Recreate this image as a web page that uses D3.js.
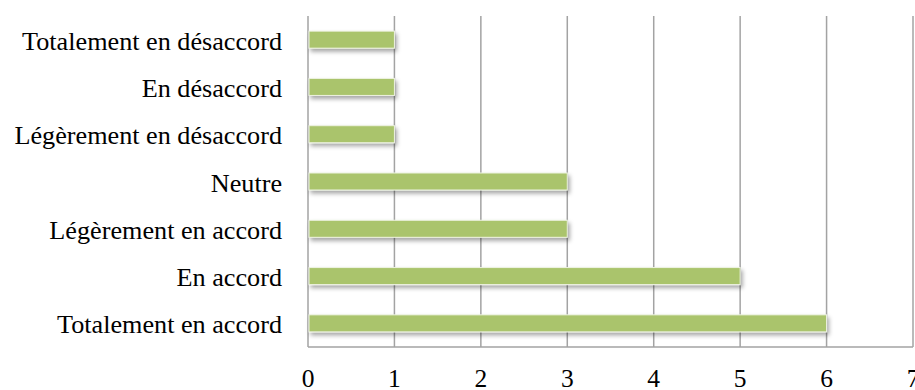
<!DOCTYPE html>
<html>
<head>
<meta charset="utf-8">
<script src="https://cdn.jsdelivr.net/npm/d3@7"></script>
<style>
  body { margin: 0; background: #fff; }
  svg { display: block; }
</style>
</head>
<body>
<div id="chart"></div>
<script>
const categories = [
    'Totalement en désaccord',
    'En désaccord',
    'Légèrement en désaccord',
    'Neutre',
    'Légèrement en accord',
    'En accord',
    'Totalement en accord'
];
const values = [1, 1, 1, 3, 3, 5, 6];
const xTicks = [0, 1, 2, 3, 4, 5, 6, 7];

const width = 915;
const height = 390;
const margin = { top: 16, right: 2, bottom: 43, left: 308 };
const fontFamily = '"Liberation Serif", "Times New Roman", serif';

const svg = d3.select('#chart')
    .append('svg')
    .attr('width', width)
    .attr('height', height);

const defs = svg.append('defs');
const shadow = defs.append('filter')
    .attr('id', 'shadow')
    .attr('x', '-5%').attr('y', '-40%')
    .attr('width', '115%').attr('height', '200%');
shadow.append('feDropShadow')
    .attr('dx', 2)
    .attr('dy', 3)
    .attr('stdDeviation', 2)
    .attr('flood-color', '#000')
    .attr('flood-opacity', 0.35);

const x = d3.scaleLinear()
    .domain([0, 7])
    .range([margin.left, width - margin.right]);

const y = d3.scaleBand()
    .domain(categories)
    .range([margin.top, height - margin.bottom])
    .paddingInner(0.64)
    .paddingOuter(0.32);

const gridColor = '#a3a3a3';

// vertical gridlines
svg.append('g')
    .selectAll('line')
    .data(xTicks)
    .join('line')
    .attr('x1', d => x(d))
    .attr('x2', d => x(d))
    .attr('y1', margin.top)
    .attr('y2', height - margin.bottom)
    .attr('stroke', gridColor)
    .attr('stroke-width', 1.5);

// bottom axis line
svg.append('line')
    .attr('x1', x(0))
    .attr('x2', x(7))
    .attr('y1', height - margin.bottom)
    .attr('y2', height - margin.bottom)
    .attr('stroke', gridColor)
    .attr('stroke-width', 1.5);

// bars
svg.append('g')
    .selectAll('rect')
    .data(values)
    .join('rect')
    .attr('x', x(0) + 1)
    .attr('y', (d, i) => y(categories[i]))
    .attr('width', d => x(d) - x(0) - 1)
    .attr('height', y.bandwidth())
    .attr('fill', '#aac46c')
    .attr('stroke', '#eef3e2')
    .attr('stroke-width', 1)
    .attr('filter', 'url(#shadow)');

// category labels
svg.append('g')
    .selectAll('text')
    .data(categories)
    .join('text')
    .attr('x', 282)
    .attr('y', d => y(d) + y.bandwidth() / 2 + 10)
    .attr('text-anchor', 'end')
    .attr('font-family', fontFamily)
    .attr('font-size', 26.2)
    .attr('fill', '#000')
    .text(d => d);

// x tick labels
svg.append('g')
    .selectAll('text')
    .data(xTicks)
    .join('text')
    .attr('x', d => x(d))
    .attr('y', 387)
    .attr('text-anchor', 'middle')
    .attr('font-family', fontFamily)
    .attr('font-size', 25.5)
    .attr('fill', '#000')
    .text(d => d);
</script>
</body>
</html>
